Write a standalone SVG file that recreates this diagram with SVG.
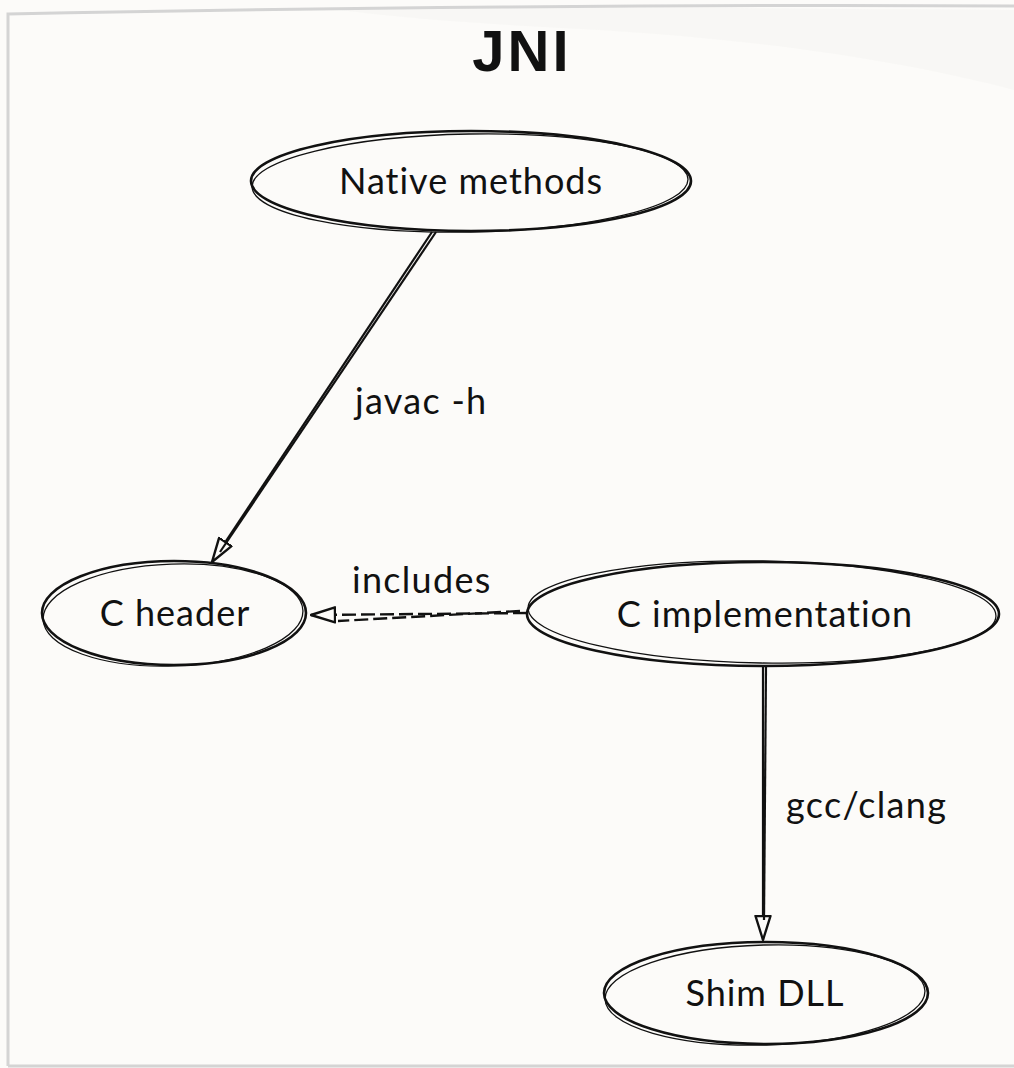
<svg xmlns="http://www.w3.org/2000/svg" width="1014" height="1068" viewBox="0 0 1014 1068">
<style>
.bg{fill:#fcfbf9}
.frame{fill:none;stroke:#d4d4d4;stroke-width:3}
.node{fill:none;stroke:#111;stroke-width:2.6}
.node2{fill:none;stroke:#111;stroke-width:1.3}
.lbl{font-family:Lato,"Open Sans",sans-serif;font-size:36px;letter-spacing:1px;fill:#111;text-anchor:middle}
.elbl{font-family:Lato,"Open Sans",sans-serif;font-size:36px;letter-spacing:1.3px;fill:#111}
.title{font-family:"Liberation Sans Narrow","Liberation Sans",sans-serif;font-size:58px;letter-spacing:3px;font-weight:bold;fill:#111;text-anchor:middle}
.edge{fill:none;stroke:#111;stroke-width:2.2}
.dash{fill:none;stroke:#111;stroke-width:2.4;stroke-dasharray:14 5}
</style>
<defs>
<marker id="arr" viewBox="0 0 26 18" refX="25" refY="9" markerWidth="26" markerHeight="18" markerUnits="userSpaceOnUse" orient="auto">
<path d="M1,1.5 L25,9 L1,16.5 Z" fill="#fcfbf9" stroke="#111" stroke-width="2.4" stroke-linejoin="round"/>
</marker>
</defs>
<rect class="bg" x="0" y="0" width="1014" height="1068"/>
<path d="M340,10 C500,5 700,8 1014,10 L1014,90 C900,60 760,40 600,30 C500,25 420,20 340,10 Z" fill="#f1f0ee" opacity="0.35"/>
<path class="frame" d="M8,1066 L8,14 C300,8 700,4 1014,6 M8,1066 L1014,1066"/>
<text class="title" x="522" y="71">JNI</text>
<g id="connectors">
<g id="e1"><path class="edge" d="M432,232 L212,562" marker-end="url(#arr)"/><path class="edge" d="M436,232 L220,552" stroke-width="1.2"/></g>
<text class="elbl" x="355" y="414">javac -h</text>
<g id="e2"><path class="dash" d="M527,613 L311,615" marker-end="url(#arr)"/><path class="dash" d="M520,611 L338,621" stroke-width="1.6"/></g>
<text class="elbl" x="352" y="593">includes</text>
<g id="e3"><path class="edge" d="M763,667 L763,940" marker-end="url(#arr)"/><path class="edge" d="M766,667 L764,920" stroke-width="1.2"/></g>
<text class="elbl" x="786" y="818">gcc/clang</text>
</g>
<g id="native">
<ellipse class="node" cx="471" cy="181" rx="220" ry="50"/>
<ellipse class="node2" cx="470" cy="183" rx="218" ry="49" transform="rotate(-1 470 183)"/>
<text class="lbl" x="471" y="194">Native methods</text>
</g>
<g id="cheader">
<ellipse class="node" cx="174" cy="613" rx="132" ry="52"/>
<ellipse class="node2" cx="173" cy="615" rx="130" ry="51" transform="rotate(-2 173 615)"/>
<text class="lbl" x="175" y="626">C header</text>
</g>
<g id="cimpl">
<ellipse class="node" cx="763" cy="614" rx="236" ry="52"/>
<ellipse class="node2" cx="762" cy="612" rx="234" ry="51" transform="rotate(1 762 612)"/>
<text class="lbl" x="765" y="627">C implementation</text>
</g>
<g id="shim">
<ellipse class="node" cx="766" cy="993" rx="162" ry="51"/>
<ellipse class="node2" cx="765" cy="995" rx="160" ry="50" transform="rotate(-1.5 765 995)"/>
<text class="lbl" x="765" y="1006">Shim DLL</text>
</g>
</svg>
